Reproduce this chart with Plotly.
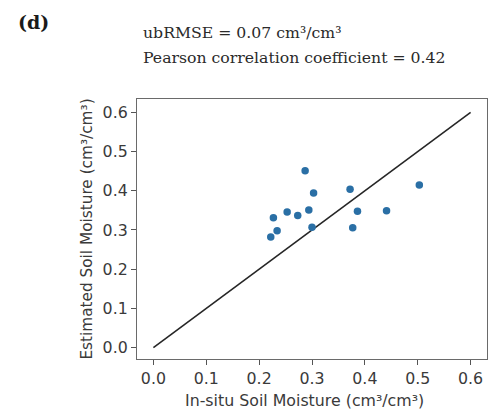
import plotly.graph_objects as go

# In-situ vs estimated soil moisture (cm3/cm3)
in_situ = [0.287, 0.303, 0.227, 0.253, 0.273, 0.294, 0.234, 0.222, 0.300,
           0.372, 0.377, 0.386, 0.441, 0.503]
estimated = [0.451, 0.394, 0.331, 0.346, 0.337, 0.351, 0.298, 0.282, 0.307,
             0.404, 0.306, 0.348, 0.349, 0.415]

line_x = [0.0, 0.6]
line_y = [0.0, 0.6]

tick_vals = [0.0, 0.1, 0.2, 0.3, 0.4, 0.5, 0.6]
tick_text = ["0.0", "0.1", "0.2", "0.3", "0.4", "0.5", "0.6"]

panel_label = "(d)"
stats_lines = ["ubRMSE = 0.07 cm³/cm³", "Pearson correlation coefficient = 0.42"]
x_title = "In-situ Soil Moisture (cm³/cm³)"
y_title = "Estimated Soil Moisture (cm³/cm³)"

SANS = "DejaVu Sans"
SERIF = "DejaVu Serif"
TXT = "#3a3a3a"

fig = go.Figure()
fig.add_trace(go.Scatter(x=line_x, y=line_y, mode="lines",
                         line=dict(color="#262626", width=1.6),
                         showlegend=False, hoverinfo="skip"))
fig.add_trace(go.Scatter(x=in_situ, y=estimated, mode="markers",
                         marker=dict(color="#2a6fa5", size=7.5, line=dict(width=0)),
                         showlegend=False))

axis_common = dict(
    tickvals=tick_vals, ticktext=tick_text,
    showgrid=False, zeroline=False,
    showline=True, linecolor="#6a6a6a", linewidth=1.2, mirror=True,
    ticks="outside", ticklen=5, tickwidth=1, tickcolor="#555",
    tickfont=dict(family=SANS, size=15.8, color=TXT),
)

L, R, T, B = 137, 9, 99, 53
W, H = 496, 412

fig.update_layout(
    width=W, height=H,
    margin=dict(l=L, r=R, t=T, b=B),
    paper_bgcolor="white", plot_bgcolor="white",
    xaxis=dict(range=[-0.031, 0.631], **axis_common),
    yaxis=dict(range=[-0.029, 0.634],
               title=dict(text=y_title,
                          font=dict(family=SANS, size=15.3, color=TXT),
                          standoff=6),
               **axis_common),
)

pw = W - L - R
ph = H - T - B


def px_to_paper(px, py):
    return (px - L) / pw, (H - py - B) / ph


tx, ty = px_to_paper(304, 412)
fig.add_annotation(text=x_title, x=tx, y=ty, xref="paper", yref="paper",
                   showarrow=False, xanchor="center", yanchor="bottom",
                   font=dict(family=SANS, size=15.8, color=TXT))

ax, ay = px_to_paper(16, 9)
fig.add_annotation(text="<b>" + panel_label + "</b>", x=ax, y=ay, xref="paper", yref="paper",
                   showarrow=False, xanchor="left", yanchor="top",
                   font=dict(family=SERIF, size=19, color="#1a1a1a"))
for i, line in enumerate(stats_lines):
    sx, sy = px_to_paper(141, 21 + 25 * i)
    fig.add_annotation(text=line, x=sx, y=sy, xref="paper", yref="paper",
                       showarrow=False, xanchor="left", yanchor="top",
                       font=dict(family=SERIF, size=15.7, color="#2a2a2a"))

fig.write_html("out.html")
